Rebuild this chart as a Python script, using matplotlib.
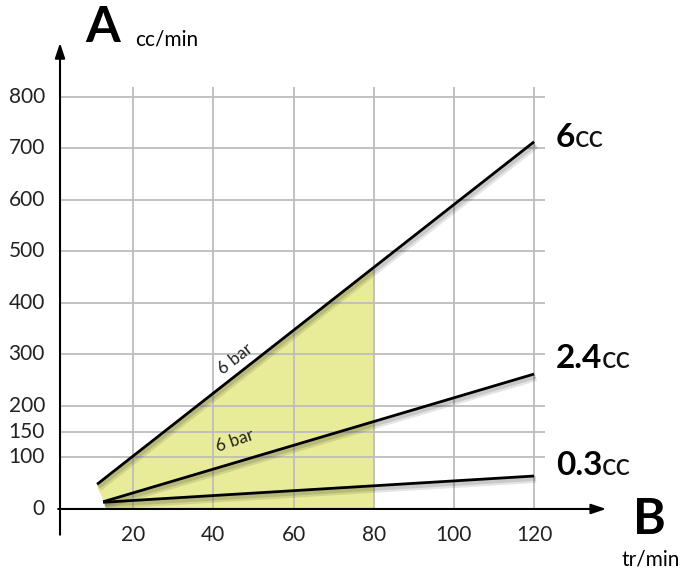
import numpy as np
import matplotlib
matplotlib.use("Agg")
from matplotlib import pyplot as plt
from matplotlib import patheffects as pe

plt.rcParams['font.family'] = ['Lato', 'DejaVu Sans']

# speed (tr/min) and flow (cc/min) for each pump size
x_6cc = [11, 120]
y_6cc = [48, 713]
x_24cc = [12.5, 120]
y_24cc = [14, 262]
x_03cc = [12.5, 120]
y_03cc = [13, 64]

x_ticks = [20, 40, 60, 80, 100, 120]
y_ticks = [0, 100, 150, 200, 300, 400, 500, 600, 700, 800]
fill_end = 80
# left edge of the shaded zone (curved foot of the 6cc line)
edge_x = [11.3, 12.2, 12.9, 13.5]
edge_y = [37, 24, 8, 0]

fig = plt.figure(figsize=(6.84, 5.75), dpi=100)
ax = fig.add_axes([0, 0, 1, 1])
ax.set_xlim(-13.22, 157.4)
ax.set_ylim(-128.2, 988.3)
ax.axis('off')

# shaded working zone
fx = np.linspace(x_6cc[0], fill_end, 20)
fy = np.interp(fx, x_6cc, y_6cc)
poly_x = list(fx) + [fill_end, edge_x[-1]] + edge_x[::-1][1:]
poly_y = list(fy) + [0, edge_y[-1]] + edge_y[::-1][1:]
ax.fill(poly_x, poly_y, color='#e8eb98', lw=0, zorder=1)

# grid
ax.hlines([t for t in y_ticks if t > 0], 1.5, 122.7, color='#bdbdbd', lw=1.3, zorder=2)
ax.vlines(x_ticks, -2, 820, color='#bdbdbd', lw=1.3, zorder=2)

# axes with arrows
ax.annotate('', xy=(1.75, 905), xytext=(1.75, -50),
            arrowprops=dict(arrowstyle='-|>,head_length=0.9,head_width=0.3', color='black', lw=1.5,
                            shrinkA=0, shrinkB=0), zorder=5)
ax.annotate('', xy=(138, 0), xytext=(1.3, 0),
            arrowprops=dict(arrowstyle='-|>,head_length=0.9,head_width=0.3', color='black', lw=1.5,
                            shrinkA=0, shrinkB=0), zorder=5)

# lines with soft shadow
shadow = [pe.SimpleLineShadow(offset=(1.5, -2.5), alpha=0.10, shadow_color='black', linewidth=5),
          pe.SimpleLineShadow(offset=(1, -2), alpha=0.12, shadow_color='black', linewidth=3),
          pe.Normal()]
for xs, ys in [(x_6cc, y_6cc), (x_24cc, y_24cc), (x_03cc, y_03cc)]:
    ax.plot(xs, ys, color='black', lw=2, solid_capstyle='butt', path_effects=shadow, zorder=4)

# tick labels
for t in x_ticks:
    ax.text(t, -50, str(t), ha='center', va='center', fontsize=15, color='#222222')
for t in y_ticks:
    ax.text(-2, t, str(t), ha='right', va='center', fontsize=15, color='#222222')

# line annotations
ax.text(45.5, 292, '6 bar', rotation=38, ha='center', va='center', fontsize=12.5, color='#222222', zorder=6)
ax.text(45.5, 132, '6 bar', rotation=19, ha='center', va='center', fontsize=12.5, color='#222222', zorder=6)

# right-hand labels
for yv, num in [(722, '6'), (293, '2.4'), (85, '0.3')]:
    t = ax.text(125.5, yv, num, ha='left', va='center', fontsize=24, fontweight='bold', color='black')
    ax.annotate('cc', xycoords=t, xy=(1, 0), va='bottom', ha='left', fontsize=22, fontweight='normal',
                color='#111111', xytext=(-0.5, 0), textcoords='offset points')

# axis titles
ax.text(8, 934, 'A', fontsize=36, fontweight='bold', ha='left', va='center')
ax.text(20.5, 911, 'cc/min', fontsize=15, ha='left', va='center')
ax.text(144.7, -21, 'B', fontsize=36, fontweight='bold', ha='left', va='center')
ax.text(149, -99, 'tr/min', fontsize=15, ha='center', va='center')

fig.savefig('out.png', dpi=100)
